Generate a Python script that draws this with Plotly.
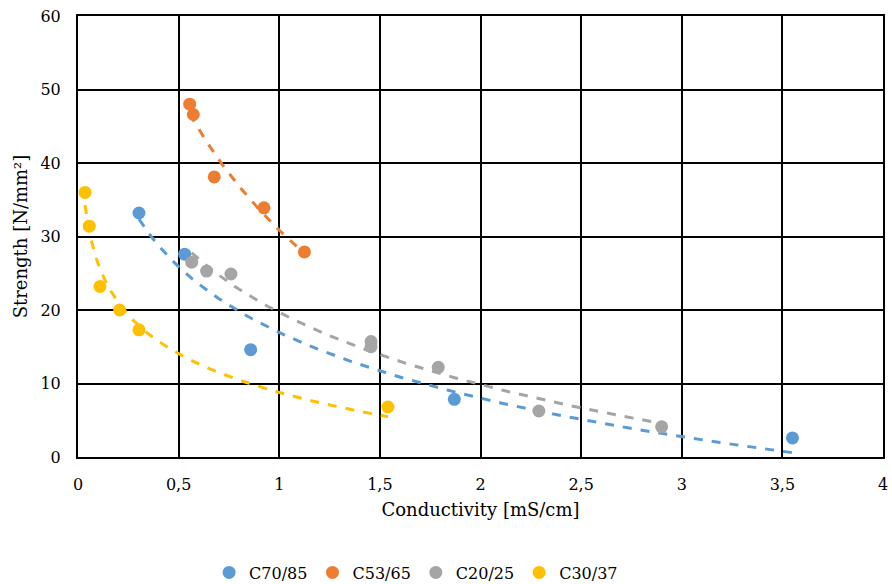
import numpy as np
import plotly.graph_objects as go

names = ["C70/85", "C53/65", "C20/25", "C30/37"]
colors = ["#5B9BD5", "#ED7D31", "#A5A5A5", "#FFC000"]

x_c70 = [0.303, 0.53, 0.858, 1.87, 3.55]
y_c70 = [33.2, 27.6, 14.6, 7.85, 2.6]

x_c53 = [0.555, 0.573, 0.677, 0.924, 1.125]
y_c53 = [48.0, 46.6, 38.1, 33.9, 27.9]

x_c20 = [0.565, 0.639, 0.76, 1.456, 1.456, 1.79, 2.29, 2.90]
y_c20 = [26.5, 25.3, 24.9, 15.7, 15.0, 12.2, 6.26, 4.1]

x_c30 = [0.035, 0.056, 0.109, 0.207, 0.303, 1.54]
y_c30 = [36.0, 31.4, 23.2, 20.0, 17.3, 6.8]

xs = [x_c70, x_c53, x_c20, x_c30]
ys = [y_c70, y_c53, y_c20, y_c30]

x_ticks = [0, 0.5, 1, 1.5, 2, 2.5, 3, 3.5, 4]
y_ticks = [0, 10, 20, 30, 40, 50, 60]

FONT = "DejaVu Serif"

fig = go.Figure()

# logarithmic trend lines (least squares, like a spreadsheet trendline)
for x, y, c in zip(xs, ys, colors):
    x = np.array(x); y = np.array(y)
    b, a = np.polyfit(np.log(x), y, 1)
    xt = np.linspace(x.min(), x.max(), 100)
    fig.add_trace(go.Scatter(x=xt, y=a + b * np.log(xt), mode="lines",
                             line=dict(color=c, width=3, dash="dash"),
                             showlegend=False, hoverinfo="skip"))

for x, y, c, n in zip(xs, ys, colors, names):
    fig.add_trace(go.Scatter(x=x, y=y, mode="markers", name=n,
                             marker=dict(color=c, size=13)))

fig.update_layout(
    width=892, height=584,
    margin=dict(l=78, r=9, t=16, b=127, autoexpand=False),
    paper_bgcolor="white", plot_bgcolor="white",
    separators=",.",
    font=dict(family=FONT, size=16, color="#000"),
    showlegend=True,
    legend=dict(orientation="h", x=0.42, xanchor="center", y=-0.262, yanchor="middle",
                font=dict(family=FONT, size=16, color="#000"), itemwidth=30, tracegroupgap=0),
    xaxis=dict(range=[0, 4], tickvals=x_ticks, showgrid=True, gridcolor="black", gridwidth=2,
               zeroline=False, showline=True, linecolor="black", linewidth=2, mirror=True,
               ticks="", ticklabelstandoff=12, automargin=False,
               tickfont=dict(family=FONT, size=16, color="#000"),
               title=dict(text="Conductivity [mS/cm]", font=dict(family=FONT, size=18, color="#000"), standoff=10)),
    yaxis=dict(range=[0, 60], tickvals=y_ticks, showgrid=True, gridcolor="black", gridwidth=2,
               zeroline=False, showline=True, linecolor="black", linewidth=2, mirror=True,
               ticks="", ticklabelstandoff=12, automargin=False,
               tickfont=dict(family=FONT, size=16, color="#000"),
               title=dict(text="Strength [N/mm²]", font=dict(family=FONT, size=18, color="#000"), standoff=8)),
)

fig.write_html("out.html")
